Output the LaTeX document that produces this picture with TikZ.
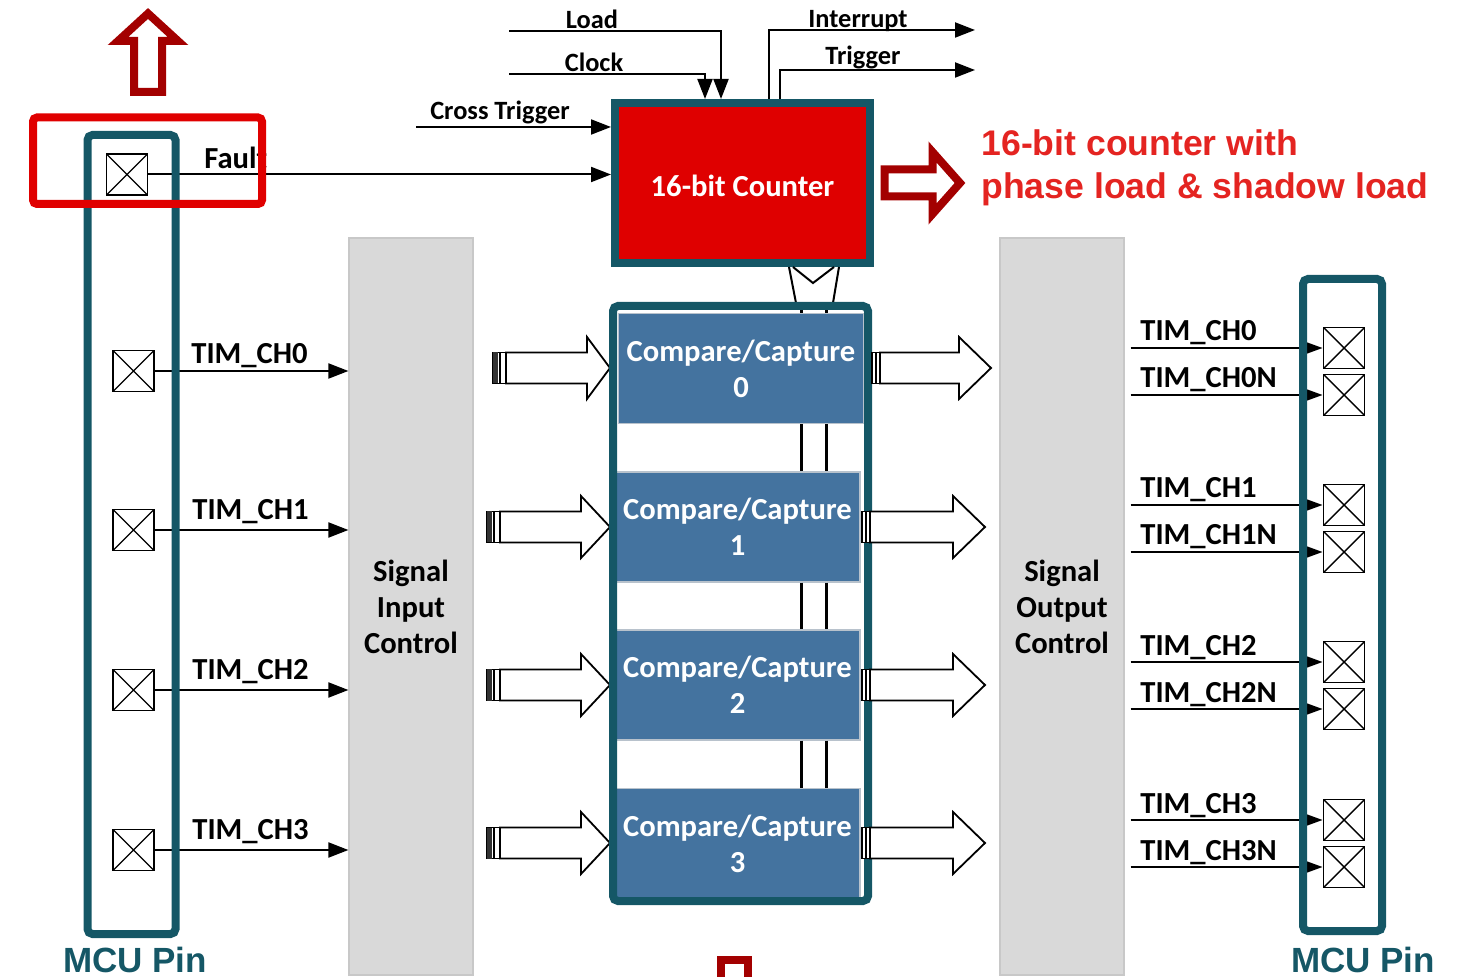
\documentclass[tikz,border=0pt]{standalone}
\usepackage{fontspec}
\setmainfont{Carlito}
\newfontfamily\arialf{Liberation Sans}
\usetikzlibrary{arrows.meta}
\definecolor{tealc}{HTML}{155766}
\definecolor{ccblue}{HTML}{44739F}
\definecolor{ccedge}{HTML}{B8C2CC}
\definecolor{greyb}{HTML}{D9D9D9}
\definecolor{greyd}{HTML}{C8C8C8}
\definecolor{cntred}{HTML}{DF0000}
\definecolor{hlred}{HTML}{E00000}
\definecolor{darkred}{HTML}{A30000}
\definecolor{txtred}{HTML}{E42421}
% input block arrow: tail-left x, head base x, tip x, centre y
\newcommand\inarr[4]{%
  \draw[harrow] (#1+13,#4-15.5) -- (#2,#4-15.5) -- (#2,#4-31) -- (#3,#4) -- (#2,#4+31) -- (#2,#4+15.5) -- (#1+13,#4+15.5) -- cycle;
  \draw[line width=0.8pt, fill=white] (#1,#4-15.5) rectangle (#1+13,#4+15.5);
  \fill[black!80] (#1,#4-15.5) rectangle (#1+4.5,#4+15.5);
  \draw[line width=0.6pt] (#1+7,#4-15.5) -- (#1+7,#4+15.5);
}
% output block arrow: tail-left x, head base x, tip x, centre y
\newcommand\outarr[4]{%
  \draw[harrow] (#1+8,#4-15.5) -- (#2,#4-15.5) -- (#2,#4-31) -- (#3,#4) -- (#2,#4+31) -- (#2,#4+15.5) -- (#1+8,#4+15.5) -- cycle;
  \draw[line width=0.8pt, fill=white] (#1,#4-15.5) rectangle (#1+8,#4+15.5);
  \draw[line width=0.6pt] (#1+4,#4-15.5) -- (#1+4,#4+15.5);
}
\begin{document}
\begin{tikzpicture}[x=0.5pt,y=-0.5pt,
  lab/.style={font=\bfseries\fontsize{15.3}{18}\selectfont, inner sep=0pt},
  slab/.style={font=\bfseries\fontsize{13.2}{16}\selectfont, inner sep=0pt},
  sig/.style={line width=1pt, -{Triangle[length=10pt,width=7.5pt]}},
  osig/.style={line width=1pt, -{Triangle[length=8pt,width=5.5pt]}},
  busln/.style={line width=1.5pt},
  thinln/.style={line width=1pt},
  harrow/.style={draw=black, line width=0.9pt, fill=white, line join=miter},
  pinbox/.style={draw, line width=0.9pt, minimum size=20.5pt, inner sep=0pt, fill=white,
    path picture={\draw[line width=0.7pt] (path picture bounding box.north west) -- (path picture bounding box.south east)
      (path picture bounding box.north east) -- (path picture bounding box.south west);}},
  frame/.style={draw=tealc, line width=4pt, rounded corners=2.5pt, inner sep=0pt},
  ccblk/.style={fill=ccblue, draw=ccedge, line width=0.6pt, minimum width=122.5pt, minimum height=55pt,
    inner sep=0pt, text=white, align=center, font=\bfseries\fontsize{15.3}{18}\selectfont},
  greyblk/.style={fill=greyb, draw=greyd, line width=0.6pt, minimum width=62pt, minimum height=368.5pt,
    inner sep=0pt, align=center, font=\bfseries\fontsize{15.3}{18}\selectfont},
  counter/.style={fill=cntred, draw=tealc, line width=4pt, minimum width=127.5pt, minimum height=80pt,
    inner sep=0pt, text=white, font=\bfseries\fontsize{15.3}{18}\selectfont},
  bigred/.style={draw=darkred, line width=4pt, fill=white, line join=miter},
  mcu/.style={font=\arialf\bfseries\fontsize{17.5}{20}\selectfont, text=tealc, inner sep=0pt, anchor=base},
  note/.style={font=\arialf\bfseries\fontsize{17.8}{21.5}\selectfont, text=txtred, inner sep=0pt, anchor=base west}
]
\useasboundingbox (0,0) rectangle (1466,977);

% grey control blocks
\node[greyblk] (sic) at (411,606.5) {Signal\\Input\\Control};
\node[greyblk] (soc) at (1062,606.5) {Signal\\Output\\Control};

% counter
\node[counter] (cnt) at (742.5,183) {\raisebox{-6.9pt}[0pt][0pt]{16-bit Counter}};

% top signals
\coordinate (ldS) at (509,31);
\coordinate (ckS) at (509,74);
\coordinate (irE) at (975,30);
\coordinate (trE) at (975,70);
\coordinate (ctS) at (416,127);
\coordinate (ldX) at (721,0);
\coordinate (ckX) at (705,0);
\coordinate (irX) at (769,0);
\coordinate (trX) at (780,0);
\draw[sig] (ldS) -- (ldS -| ldX) -- (ldX |- cnt.north);
\draw[sig] (ckS) -- (ckS -| ckX) -- (ckX |- cnt.north);
\draw[sig] (irX |- cnt.north) -- (irX |- irE) -- (irE);
\draw[sig] (trX |- cnt.north) -- (trX |- trE) -- (trE);
\draw[sig] (ctS) -- (ctS -| cnt.west);
\node[slab, anchor=base] (ldL) at (592,29) {Load};
\node[slab, anchor=base] (ckL) at (594,72) {Clock};
\node[slab, anchor=base] (irL) at (858,28) {Interrupt};
\node[slab, anchor=base] (trL) at (863,65) {Trigger};
\node[slab, anchor=base] (ctL) at (500,120) {Cross Trigger};

% left pins
\node[pinbox] (pf) at (127,174.5) {};
\node[pinbox] (p0) at (133.5,371) {};
\node[pinbox] (p1) at (133.5,530) {};
\node[pinbox] (p2) at (133.5,690) {};
\node[pinbox] (p3) at (133.5,850) {};
\draw[sig] (pf.east) -- (pf.east -| cnt.west);
\draw[sig] (p0.east) -- (p0.east -| sic.west);
\draw[sig] (p1.east) -- (p1.east -| sic.west);
\draw[sig] (p2.east) -- (p2.east -| sic.west);
\draw[sig] (p3.east) -- (p3.east -| sic.west);
\node[lab, anchor=base west] (flt) at (204,169) {Fault};
\node[lab, anchor=base west] (l0) at (191,364) {TIM\_CH0};
\node[lab, anchor=base west] (l1) at (192,520) {TIM\_CH1};
\node[lab, anchor=base west] (l2) at (192,680) {TIM\_CH2};
\node[lab, anchor=base west] (l3) at (192,839) {TIM\_CH3};
\node[frame, minimum width=44pt, minimum height=399.5pt] (lf) at (131.5,534.5) {};

% highlight + up arrow
\node[draw=hlred, line width=4pt, rounded corners=2pt, minimum width=114.5pt, minimum height=43.25pt, inner sep=0pt] (hl) at (147.5,160.75) {};
\draw[bigred] (134,92) -- (134,41) -- (118,41) -- (148,13.5) -- (178,41) -- (162,41) -- (162,92) -- cycle;

% bus between counter and compare block
\draw[thinln] (789,267) -- (796,303);
\draw[thinln] (839,267) -- (833,303);
\draw[thinln] (793,267) -- (813,283) -- (834,267);
\coordinate (b1) at (801,0);
\coordinate (b2) at (826,0);
\draw[busln] (801,303) -- (801,313);
\draw[busln] (826,303) -- (826,313);

% input block arrows
\inarr{493}{587}{610}{368}
\inarr{487}{581}{610}{527}
\inarr{487}{581}{610}{685}
\inarr{487}{581}{610}{843}

% compare/capture blocks
\node[ccblk] (cc0) at (741,368.5) {Compare/Capture\\0};
\node[ccblk] (cc1) at (737.5,527) {Compare/Capture\\1};
\node[ccblk] (cc2) at (737.5,685) {Compare/Capture\\2};
\node[ccblk] (cc3) at (737.5,843.5) {Compare/Capture\\3};
\draw[busln] (cc0.south -| b1) -- (cc1.north -| b1);
\draw[busln] (cc0.south -| b2) -- (cc1.north -| b2);
\draw[busln] (cc1.south -| b1) -- (cc2.north -| b1);
\draw[busln] (cc1.south -| b2) -- (cc2.north -| b2);
\draw[busln] (cc2.south -| b1) -- (cc3.north -| b1);
\draw[busln] (cc2.south -| b2) -- (cc3.north -| b2);
\node[frame, minimum width=127.5pt, minimum height=297.5pt] (ccf) at (740.5,603.5) {};

% output block arrows
\outarr{872}{959}{991}{368}
\outarr{862}{953}{985}{527}
\outarr{862}{953}{985}{685}
\outarr{862}{953}{985}{843}

% right pins
\node[pinbox] (r0) at (1344,348) {};
\node[pinbox] (r0n) at (1344,395) {};
\node[pinbox] (r1) at (1344,505) {};
\node[pinbox] (r1n) at (1344,552) {};
\node[pinbox] (r2) at (1344,662) {};
\node[pinbox] (r2n) at (1344,709) {};
\node[pinbox] (r3) at (1344,820) {};
\node[pinbox] (r3n) at (1344,867) {};
\coordinate (soR) at ([xshift=3pt]soc.east);
\foreach \p in {r0,r0n,r1,r1n,r2,r2n,r3,r3n}{
  \draw[osig] (soR |- \p.west) -- (\p.west);
}
\node[lab, anchor=base west] (o0) at (1140,341) {TIM\_CH0};
\node[lab, anchor=base west] (o0n) at (1140,388) {TIM\_CH0N};
\node[lab, anchor=base west] (o1) at (1140,498) {TIM\_CH1};
\node[lab, anchor=base west] (o1n) at (1140,545) {TIM\_CH1N};
\node[lab, anchor=base west] (o2) at (1140,655) {TIM\_CH2};
\node[lab, anchor=base west] (o2n) at (1140,702) {TIM\_CH2N};
\node[lab, anchor=base west] (o3) at (1140,813) {TIM\_CH3};
\node[lab, anchor=base west] (o3n) at (1140,860) {TIM\_CH3N};
\node[frame, minimum width=39.5pt, minimum height=326pt] (rf) at (1342.5,605) {};

% counter annotation
\draw[bigred] (884.5,169.5) -- (932.5,169.5) -- (932.5,152) -- (960,183) -- (932.5,214) -- (932.5,196.5) -- (884.5,196.5) -- cycle;
\node[note] (n1) at (981,156) {16-bit counter with};
\node[note] (n2) at (981,199) {phase load \& shadow load};

% MCU pin labels
\node[mcu] (mcuL) at (135,972) {MCU Pin};
\node[mcu] (mcuR) at (1363,972) {MCU Pin};

% bottom partial arrow
\draw[draw=darkred, line width=4pt, line join=miter] (721,995) -- (721,960) -- (748,960) -- (748,995);
\end{tikzpicture}
\end{document}
